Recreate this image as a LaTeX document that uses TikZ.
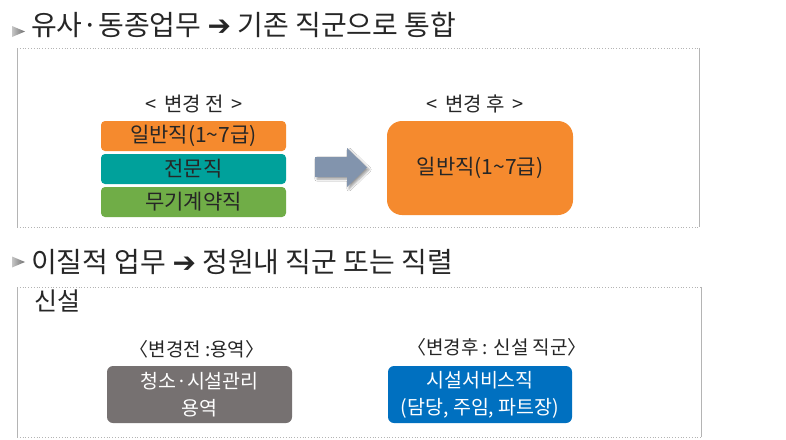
\documentclass[tikz,border=0pt]{standalone}
\usepackage{fontspec}
\setmainfont{Noto Sans CJK KR}
\newfontfamily\symfont{DejaVu Sans}
\usetikzlibrary{shadows.blur}
\definecolor{orangeb}{HTML}{F58A2E}
\definecolor{tealb}{HTML}{00A19B}
\definecolor{greenb}{HTML}{70AD47}
\definecolor{grayb}{HTML}{767171}
\definecolor{blueb}{HTML}{0070C0}
\definecolor{arrowc}{HTML}{8294AD}
\definecolor{framec}{HTML}{B4B4B4}
\definecolor{textc}{HTML}{262626}
\tikzset{
  title/.style={anchor=west, inner sep=0pt, text=textc, font=\fontsize{28}{32}\selectfont},
  lbl/.style={inner sep=0pt, text=textc, font=\fontsize{19}{22}\selectfont},
  bar/.style={rounded corners=4pt, minimum width=185pt, minimum height=30pt, inner sep=0pt, text=textc, font=\fontsize{21}{24}\selectfont},
  card/.style={rounded corners=6pt, minimum width=185pt, minimum height=57pt, inner sep=0pt, text=white, align=center, font=\fontsize{19.5}{27}\selectfont},
  framedot/.style={draw=framec, line width=0.8pt, dotted},
  frameline/.style={draw=framec, line width=0.9pt},
  bullet/.style={left color=gray!45, right color=gray!85!black},
}
\begin{document}
\begin{tikzpicture}[x=1pt,y=-1pt]
\useasboundingbox (0,0) rectangle (786,439);
\fill[white] (0,0) rectangle (786,439);

% section 1
\shade[bullet] (12,26) -- (25,31.5) -- (12,37) -- cycle;
\node[title] (t1) at (31,25) {유사·동종업무 {\symfont ➔} 기존 직군으로 통합};
\path[framedot] (17,48) -- (699,48);
\path[framedot] (17,227) -- (699,227);
\path[frameline] (17,48) -- (17,227);
\path[frameline] (699,48) -- (699,227);

\node[lbl, font=\fontsize{20}{24}\selectfont] (before) at (194,104) {<\, 변경 전 \,>};
\node[bar, fill=orangeb] (gen) at (193.5,136) {일반직(1\textasciitilde 7급)};
\node[bar, fill=tealb] (spec) at (193.5,169) {전문직};
\node[bar, fill=greenb] (perm) at (193.5,202) {무기계약직};

\fill[arrowc, blur shadow={shadow xshift=2pt, shadow yshift=-2pt, shadow blur steps=6}]
  (315,157) -- (347,157) -- (347,148) -- (367,167.5) -- (347,187) -- (347,177) -- (315,177) -- cycle;

\node[lbl, font=\fontsize{20}{24}\selectfont] (after) at (475,104) {<\, 변경 후 \,>};
\node[bar, fill=orangeb, minimum width=186pt, minimum height=94pt, rounded corners=15pt] (genafter) at (480,168) {일반직(1\textasciitilde 7급)};

% section 2
\shade[bullet] (12,256.5) -- (25,262) -- (12,267.5) -- cycle;
\node[title] (t2) at (31,262) {이질적 업무 {\symfont ➔} 정원내 직군 또는 직렬};
\path[framedot] (17,287) -- (701,287);
\path[framedot] (17,437) -- (701,437);
\path[frameline] (17,287) -- (17,437);
\path[frameline] (701,287) -- (701,437);

\node[inner sep=0pt, text=textc, font=\fontsize{25}{28}\selectfont] (new) at (57,301) {신설};
\node[lbl] (before2) at (197,349) {〈변경전 :용역〉};
\node[card, fill=grayb] (svc) at (199.5,394.5) {청소·시설관리\\용역};
\node[lbl] (after2) at (497,347) {〈변경후 : 신설 직군〉};
\node[card, fill=blueb, minimum width=184pt] (fac) at (480,394.5) {시설서비스직\\(담당, 주임, 파트장)};
\end{tikzpicture}
\end{document}
